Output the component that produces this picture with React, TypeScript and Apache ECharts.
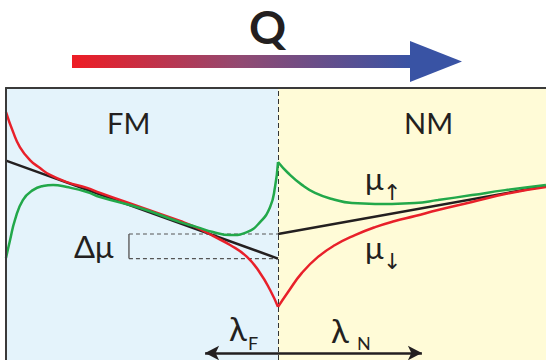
import React, { useEffect, useRef } from "react";
import * as echarts from "echarts";

// position x (interface at 0), chemical potential mu
const blackFM: number[][] = [[-10, 7.37], [0, 3.82]];
const blackNM: number[][] = [[0, 4.71], [9.85, 6.45]];

const redFM: number[][] = [
  [-10, 9.13], [-9.74, 8.41], [-9.49, 7.86], [-9.12, 7.39], [-8.75, 7.1], [-8.38, 6.85],
  [-7.76, 6.59], [-7.02, 6.38], [-6.54, 6.2], [-5.07, 5.69], [-3.6, 5.18], [-2.87, 4.89],
  [-2.39, 4.64], [-1.76, 4.31], [-1.14, 3.88], [-0.66, 3.3], [-0.29, 2.68], [0, 2.07],
];
const redNM: number[][] = [
  [0, 2.07], [0.37, 2.61], [0.88, 3.3], [1.47, 3.88], [2.1, 4.31], [2.83, 4.67], [3.57, 4.96],
  [4.3, 5.18], [5.04, 5.36], [5.88, 5.58], [7.13, 5.87], [8.35, 6.16], [9.85, 6.41],
];
const greenFM: number[][] = [
  [-10, 3.84], [-9.85, 4.49], [-9.67, 5.22], [-9.38, 5.94], [-9.01, 6.3], [-8.64, 6.45],
  [-8.27, 6.49], [-7.76, 6.41], [-7.02, 6.23], [-6.54, 6.05], [-5.07, 5.65], [-3.6, 5.14],
  [-2.98, 4.96], [-2.39, 4.78], [-1.76, 4.67], [-1.14, 4.78], [-0.66, 5.14], [-0.29, 5.69],
  [-0.11, 6.41], [0, 7.32],
];
const greenNM: number[][] = [
  [0, 7.32], [0.37, 6.92], [0.88, 6.49], [1.36, 6.2], [1.99, 5.98], [2.72, 5.83], [3.57, 5.8],
  [4.19, 5.8], [5.04, 5.83], [5.88, 5.94], [7.13, 6.12], [8.35, 6.3], [9.85, 6.49],
];

const deltaX = -5.48;
const deltaTop = 4.71;
const deltaBottom = 3.82;
const lambdaF = -2.68;
const lambdaN = 5.29;
const lambdaY = 0.4;

const DARK = "#231f20";
const RED = "#e8202a";
const GREEN = "#22a84a";
const FONT = "Lato, 'DejaVu Sans', sans-serif";

export default function App() {
  const ref = useRef<HTMLDivElement>(null);
  useEffect(() => {
    if (!ref.current) return;
    const chart = echarts.init(ref.current, undefined, { renderer: "svg" });
    const curve = (data: number[][], color: string, z: number) => ({
      type: "line",
      data,
      smooth: 0.5,
      symbol: "none",
      z,
      lineStyle: { color, width: 2.5 },
    });
    const txt = (text: string, x: number, y: number, size: number, weight = "normal", family = FONT) => ({
      type: "text",
      x,
      y,
      z: 100,
      style: {
        text,
        fill: DARK,
        font: `${weight} ${size}px ${family}`,
        align: "left",
        verticalAlign: "middle",
      },
    });
    const frame = {
      show: true,
      z: 20,
      axisLine: { show: true, onZero: false, lineStyle: { color: "#3a3a3a", width: 2 } },
      axisTick: { show: false },
      axisLabel: { show: false },
      splitLine: { show: false },
    };
    chart.setOption({
      animation: false,
      grid: { left: 6, right: 0, top: 88, bottom: 0 },
      xAxis: { type: "value", min: -10, max: 9.853, position: "top", ...frame },
      yAxis: { type: "value", min: 0.145, max: 10, position: "left", ...frame },
      series: [
        {
          type: "line",
          data: [[0, 5]],
          symbol: "none",
          lineStyle: { opacity: 0 },
          z: 0,
          silent: true,
          markArea: {
            silent: true,
            data: [
              [{ xAxis: -10, itemStyle: { color: "#e4f3fb" } }, { xAxis: 0 }],
              [{ xAxis: 0, itemStyle: { color: "#fffbd7" } }, { xAxis: 9.853 }],
            ],
          },
          markLine: {
            silent: true,
            symbol: "none",
            label: { show: false },
            lineStyle: { color: "#333", width: 1, type: [5, 3] },
            data: [{ xAxis: 0 }],
          },
        },
        {
          type: "line",
          data: [[deltaX, deltaBottom], [deltaX, deltaTop]],
          symbol: "none",
          z: 2,
          lineStyle: { color: "#666", width: 1.5 },
        },
        {
          type: "line",
          data: [[deltaX, deltaTop], [0, deltaTop]],
          symbol: "none",
          z: 2,
          lineStyle: { color: "#555", width: 1.2, type: [4, 3] },
        },
        {
          type: "line",
          data: [[deltaX, deltaBottom], [0, deltaBottom]],
          symbol: "none",
          z: 2,
          lineStyle: { color: "#555", width: 1.2, type: [4, 3] },
        },
        { ...curve(blackFM, DARK, 3), smooth: false },
        { ...curve(blackNM, DARK, 3), smooth: false },
        curve(redFM, RED, 4),
        curve(redNM, RED, 4),
        curve(greenFM, GREEN, 5),
        curve(greenNM, GREEN, 5),
        {
          type: "line",
          data: [[0, 5]],
          symbol: "none",
          lineStyle: { opacity: 0 },
          z: 6,
          markLine: {
            silent: true,
            symbol: ["arrow", "arrow"],
            symbolSize: [11, 14],
            label: { show: false },
            lineStyle: { color: DARK, width: 2.5, type: "solid" },
            data: [[{ coord: [lambdaF, lambdaY] }, { coord: [lambdaN, lambdaY] }]],
          },
        },
      ],
      graphic: [
        {
          type: "rect",
          z: 100,
          shape: { x: 72, y: 55, width: 339, height: 13 },
          style: {
            fill: new echarts.graphic.LinearGradient(0, 0, 1, 0, [
              { offset: 0, color: "#ee1c24" },
              { offset: 0.5, color: "#914a72" },
              { offset: 1, color: "#3953a4" },
            ]),
          },
        },
        {
          type: "polygon",
          z: 100,
          shape: { points: [[410, 41], [462, 61.5], [410, 82]] },
          style: { fill: "#3953a4" },
        },
        txt("Q", 249, 26, 46, "bold"),
        txt("FM", 107, 122, 29),
        txt("NM", 404, 122, 29),
        txt("Δμ", 74, 246, 31),
        txt("μ", 365, 178, 31),
        txt("↑", 383, 192, 22, "normal", "'DejaVu Sans'"),
        txt("μ", 365, 247, 31),
        txt("↓", 383, 261, 22, "normal", "'DejaVu Sans'"),
        txt("λ", 229, 328, 33),
        txt("F", 248, 343, 18),
        txt("λ", 331, 330, 33),
        txt("N", 357, 343, 18),
      ],
    });
    return () => chart.dispose();
  }, []);
  return (
    <div
      ref={ref}
      style={{ position: "fixed", left: 0, top: 0, width: 546, height: 360, background: "#fff" }}
    />
  );
}
